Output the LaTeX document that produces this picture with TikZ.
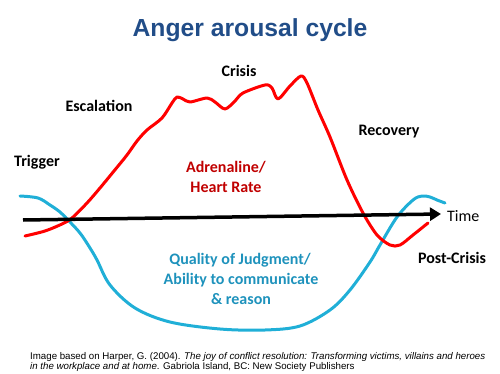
\documentclass[tikz,border=0pt]{standalone}
\usepackage{fontspec}
\setmainfont{Carlito}
\newfontfamily\capfont{Liberation Sans}
\usetikzlibrary{arrows.meta}
\definecolor{titleblue}{HTML}{214D88}
\definecolor{curvered}{HTML}{FF0000}
\definecolor{textred}{HTML}{C00000}
\definecolor{curveblue}{HTML}{20AFD7}
\definecolor{textteal}{HTML}{1E92BC}
\tikzset{
  lbl/.style={font=\fontsize{16}{18}\selectfont\bfseries, anchor=base, inner sep=0pt},
  curve/.style={line width=3pt, line cap=round, line join=round},
  captxt/.style={font=\capfont\fontsize{9.7}{11}\selectfont, anchor=base west, inner sep=0pt}
}
\begin{document}
\begin{tikzpicture}[x=1pt,y=-1pt]
\useasboundingbox (0,0) rectangle (500,374);
% title
\node[anchor=base, inner sep=0pt, text=titleblue, font=\capfont\fontsize{24.7}{29}\selectfont\bfseries] (title) at (250,37) {Anger arousal cycle};
% curves
\draw[curve, curveblue] plot[smooth, tension=0.55] coordinates {(20,196) (38,198) (50,205) (60,212) (68,220) (80,233) (90,248) (97,260) (110,285) (135,308) (170,322) (220,329) (265,330) (300,326) (330,310) (350,290) (370,262) (380,245) (397,217) (413,200) (422,196) (430,197) (437,200) (445,203)};
\draw[curve, curvered] plot[smooth, tension=0.5] coordinates {(25,236) (45,231) (62,224) (72,218) (87,203) (100,188) (114,171) (127,155) (137,141) (147,130) (162,118) (172,103) (177,97) (183,99) (190,102) (207,98) (215,102) (225,109) (235,101) (243,93) (265,85) (272,88) (278,99) (290,86) (301,76) (307,83) (318,110) (330,137) (347,180) (363,213) (377,235) (390,245) (400,245) (413,235) (428,223)};
% axis
\coordinate (axs) at (23,220);
\coordinate (axe) at (441,214);
\draw[line width=3.5pt, -{Triangle[length=11pt,width=13pt]}] (axs) -- (axe);
% labels
\node[lbl] (crisis) at (239,77) {Crisis};
\node[lbl] (esc) at (99,112) {Escalation};
\node[lbl] (rec) at (389,136) {Recovery};
\node[lbl] (trig) at (37,167) {Trigger};
\node[lbl] (post) at (452,263) {Post-Crisis};
\node[lbl, font=\fontsize{16}{18}\selectfont, anchor=base west] (time) at (447,221) {Time};
\node[lbl, text=textred] (adr1) at (226,172) {Adrenaline/};
\node[lbl, text=textred] (adr2) at (226,193) {Heart Rate};
\node[lbl, text=textteal] (q1) at (240,264) {Quality of Judgment/};
\node[lbl, text=textteal] (q2) at (241,284) {Ability to communicate};
\node[lbl, text=textteal] (q3) at (241,304) {\& reason};
% caption
\node[captxt] (c1) at (30,359.5) {Image based on Harper, G. (2004). \textit{The joy of conflict resolution: Transforming victims, villains and heroes}};
\node[captxt] (c2) at (30,369.5) {\textit{in the workplace and at home}. Gabriola Island, BC: New Society Publishers};
\end{tikzpicture}
\end{document}
